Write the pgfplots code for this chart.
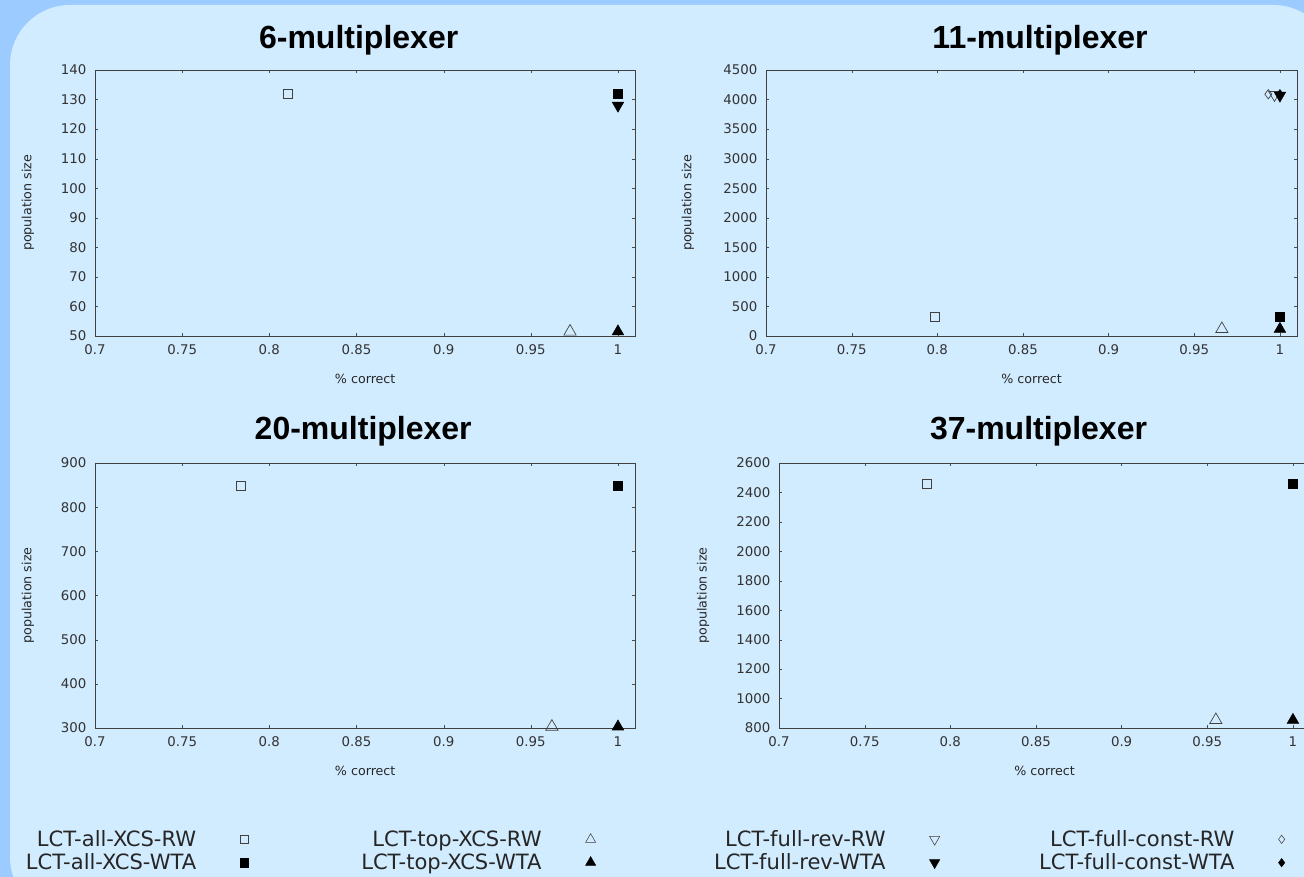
\documentclass[border=0pt]{standalone}
\usepackage{fontspec}
\setmainfont{DejaVu Sans}
\newfontfamily\titlefont{Liberation Sans}
\usepackage{pgfplots}
\pgfplotsset{compat=1.18}
\definecolor{outerbg}{RGB}{155,203,255}
\definecolor{innerbg}{RGB}{209,235,255}

\pgfplotsset{
  mux/.style={
    scale only axis, xmin=0.7, xmax=1.01,
    xtick={0.7,0.75,0.8,0.85,0.9,0.95,1},
    xticklabels={0.7,0.75,0.8,0.85,0.9,0.95,1},
    scaled ticks=false,
    /pgf/number format/1000 sep={},
    /pgf/number format/assume math mode=true,
    tick label style={font=\fontsize{10}{12}\selectfont, text=black!80},
    label style={font=\fontsize{9.5}{11}\selectfont, text=black!85},
    xlabel={\% correct}, ylabel={population size},
    title style={font=\titlefont\bfseries\fontsize{24}{28}\selectfont, at={(0.5,1)}, anchor=base},
    axis line style={black!75},
    major tick length=2.5pt,
    tick style={black!70},
    xticklabel style={yshift=-3pt},
    yticklabel style={xshift=-3pt},
    clip=false,
  },
  sAllRW/.style={only marks, mark=square, mark size=3.5pt, black!75, mark options={line width=0.5pt}},
  sAllWTA/.style={only marks, mark=square*, mark size=3.5pt, black},
  sTopRW/.style={only marks, mark=triangle, mark size=5.3pt, black!75, mark options={line width=0.5pt}},
  sTopWTA/.style={only marks, mark=triangle*, mark size=5pt, black},
  sRevRW/.style={only marks, mark=triangle, mark size=5pt, black!75, mark options={rotate=180, line width=0.5pt}},
  sRevWTA/.style={only marks, mark=triangle*, mark size=5pt, black, mark options={rotate=180}},
  sConstRW/.style={only marks, mark=diamond, mark size=3.5pt, black!75, mark options={line width=0.5pt}},
  sConstWTA/.style={only marks, mark=diamond*, mark size=3.5pt, black},
  legendaxis/.style={scale only axis, width=1pt, height=1pt, hide axis,
    xmin=0, xmax=1, ymin=0, ymax=1, anchor=center,
    legend plot pos=right, legend cell align=right,
    legend style={at={(0.5,0.5)}, anchor=east, draw=none, fill=none,
      font=\fontsize{15.8}{18}\selectfont, text=black!85, row sep=0pt, inner sep=0pt,
      /tikz/every odd column/.style={column sep=31pt}}},
}

\begin{document}
\begin{tikzpicture}
\useasboundingbox (0,0) rectangle (978pt,657.75pt);
\clip (0,0) rectangle (978pt,657.75pt);
\fill[outerbg] (0,0) rectangle (978pt,657.75pt);
\fill[innerbg, rounded corners=45pt] (7.5pt,-30pt) rectangle (1000pt,654pt);

% 6-multiplexer
\begin{axis}[mux, at={(71.25pt,405.75pt)}, anchor=south west,
  width=405.3pt, height=199.5pt, ymin=50, ymax=140,
  ytick={50,60,...,140},
  title={6-multiplexer}, title style={xshift=-4.9pt, yshift=10pt},
  xlabel style={at={(axis description cs:0.5,-0.1617)}, anchor=center},
  ylabel style={at={(axis description cs:-0.124,0.5)}, anchor=center}]
\addplot[sAllRW] coordinates {(0.8107,131.9)};
\addplot[sAllWTA] coordinates {(1,131.9)};
\addplot[sTopRW] coordinates {(0.9725,51.5)};
\addplot[sTopWTA] coordinates {(1,51.5)};
\addplot[sRevWTA] coordinates {(1,128)};
\end{axis}

% 11-multiplexer
\begin{axis}[mux, at={(574.5pt,405.75pt)}, anchor=south west,
  width=398.3pt, height=199.5pt, ymin=0, ymax=4500,
  ytick={0,500,...,4500},
  title={11-multiplexer}, title style={xshift=6.4pt, yshift=10pt},
  xlabel style={at={(axis description cs:0.5,-0.1617)}, anchor=center},
  ylabel style={at={(axis description cs:-0.147,0.5)}, anchor=center}]
\addplot[sAllRW] coordinates {(0.7986,321)};
\addplot[sAllWTA] coordinates {(1,321)};
\addplot[sTopRW] coordinates {(0.9661,118)};
\addplot[sTopWTA] coordinates {(1,118)};
\addplot[sConstRW] coordinates {(0.9932,4090)};
\addplot[sRevRW] coordinates {(0.9968,4080)};
\addplot[sConstWTA] coordinates {(1,4090)};
\addplot[sRevWTA] coordinates {(1,4070)};
\end{axis}

% 20-multiplexer
\begin{axis}[mux, at={(71.25pt,111.75pt)}, anchor=south west,
  width=405.3pt, height=198.75pt, ymin=300, ymax=900,
  ytick={300,400,...,900},
  title={20-multiplexer}, title style={xshift=-1.5pt, yshift=11.75pt},
  xlabel style={at={(axis description cs:0.5,-0.1623)}, anchor=center},
  ylabel style={at={(axis description cs:-0.124,0.5)}, anchor=center}]
\addplot[sAllRW] coordinates {(0.7837,848)};
\addplot[sAllWTA] coordinates {(1,848)};
\addplot[sTopRW] coordinates {(0.9621,303)};
\addplot[sTopWTA] coordinates {(1,303)};
\end{axis}

% 37-multiplexer
\begin{axis}[mux, at={(584.25pt,111.75pt)}, anchor=south west,
  width=398.3pt, height=198.75pt, ymin=800, ymax=2600,
  ytick={800,1000,...,2600},
  title={37-multiplexer}, title style={xshift=-4.5pt, yshift=11.75pt},
  xlabel style={at={(axis description cs:0.5,-0.1623)}, anchor=center},
  ylabel style={at={(axis description cs:-0.143,0.5)}, anchor=center}]
\addplot[sAllRW] coordinates {(0.7864,2457)};
\addplot[sAllWTA] coordinates {(1,2457)};
\addplot[sTopRW] coordinates {(0.955,854)};
\addplot[sTopWTA] coordinates {(1,854)};
\end{axis}

% legends
\begin{axis}[legendaxis, at={(186.75pt,19.5pt)}]
\addlegendimage{only marks, mark=square, mark size=3.2pt, black!75}
\addlegendentry{LCT-all-XCS-RW}
\addlegendimage{only marks, mark=square*, mark size=3.2pt, black}
\addlegendentry{LCT-all-XCS-WTA}
\end{axis}
\begin{axis}[legendaxis, at={(447pt,19.5pt)}]
\addlegendimage{only marks, mark=triangle, mark size=4.4pt, black!75}
\addlegendentry{LCT-top-XCS-RW}
\addlegendimage{only marks, mark=triangle*, mark size=4.4pt, black}
\addlegendentry{LCT-top-XCS-WTA}
\end{axis}
\begin{axis}[legendaxis, at={(705pt,19.5pt)}]
\addlegendimage{only marks, mark=triangle, mark size=4.4pt, black!75, mark options={rotate=180}}
\addlegendentry{LCT-full-rev-RW}
\addlegendimage{only marks, mark=triangle*, mark size=4.4pt, black, mark options={rotate=180}}
\addlegendentry{LCT-full-rev-WTA}
\end{axis}
\begin{axis}[legendaxis, at={(963.75pt,19.5pt)}]
\addlegendimage{only marks, mark=diamond, mark size=3.1pt, black!75}
\addlegendentry{LCT-full-const-RW}
\addlegendimage{only marks, mark=diamond*, mark size=3.1pt, black}
\addlegendentry{LCT-full-const-WTA}
\end{axis}
\end{tikzpicture}
\end{document}
